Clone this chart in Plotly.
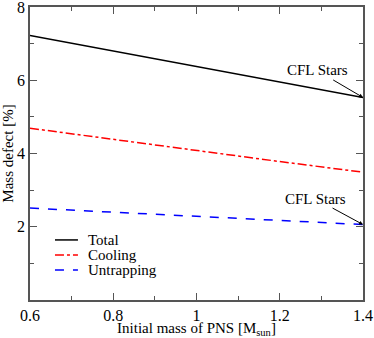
import plotly.graph_objects as go

mass = [0.6, 0.8, 1.0, 1.2, 1.4]
total = [7.22, 6.80, 6.37, 5.95, 5.53]
cooling = [4.69, 4.38, 4.08, 3.78, 3.49]
untrapping = [2.51, 2.40, 2.28, 2.17, 2.06]
xticks = [0.6, 0.8, 1.0, 1.2, 1.4]
xticklabels = ["0.6", "0.8", "1", "1.2", "1.4"]
yticks = [2, 4, 6, 8]
series_names = ["Total", "Cooling", "Untrapping"]
series_colors = ["black", "red", "blue"]
series_dash = ["solid", "dashdot", "dash"]

FONT = "Liberation Serif"

fig = go.Figure()
for name, ys, col, dash in zip(series_names, [total, cooling, untrapping], series_colors, series_dash):
    fig.add_trace(go.Scatter(x=mass, y=ys, mode="lines", name=name,
                             line=dict(color=col, width=1.5, dash=dash)))

axis_common = dict(showgrid=False, zeroline=False, showline=True, linecolor="#555",
                   linewidth=1.5, mirror="ticks", ticks="inside", ticklen=7,
                   tickcolor="#555", tickwidth=1, automargin=False,
                   ticklabeloverflow="allow",
                   tickfont=dict(family=FONT, size=16, color="black"))

fig.update_xaxes(range=[0.6, 1.4], tickvals=xticks, ticktext=xticklabels,
                 minor=dict(dtick=0.1, ticks="inside", ticklen=4, tickcolor="#555"),
                 title=dict(text="Initial mass of PNS [M<sub>sun</sub>]",
                            font=dict(family=FONT, size=15, color="black"), standoff=2),
                 **axis_common)
fig.update_yaxes(range=[0, 8], tickvals=yticks,
                 minor=dict(dtick=1, ticks="inside", ticklen=4, tickcolor="#555"),
                 title=dict(text="Mass defect [%]",
                            font=dict(family=FONT, size=15, color="black"), standoff=2),
                 **axis_common)

fig.add_annotation(x=mass[-1], y=total[-1], ax=-46, ay=-27,
                   text="CFL Stars", showarrow=True, arrowhead=2, arrowsize=0.8, arrowwidth=1,
                   arrowcolor="black", xref="x", yref="y",
                   font=dict(family=FONT, size=15, color="black"))
fig.add_annotation(x=mass[-1], y=untrapping[-1], ax=-48, ay=-26,
                   text="CFL Stars", showarrow=True, arrowhead=2, arrowsize=0.8, arrowwidth=1,
                   arrowcolor="black", xref="x", yref="y",
                   font=dict(family=FONT, size=15, color="black"))

# manual compact legend
leg_y = [0.205, 0.154, 0.102]
for name, col, dash, yy in zip(series_names, series_colors, series_dash, leg_y):
    fig.add_shape(type="line", xref="paper", yref="paper", x0=0.075, x1=0.144, y0=yy, y1=yy,
                  line=dict(color=col, width=1.5, dash=dash))
    fig.add_annotation(xref="paper", yref="paper", x=0.168, y=yy, xanchor="left", yanchor="middle",
                       text=name, showarrow=False, font=dict(family=FONT, size=15, color="black"))

fig.update_layout(
    width=374, height=338,
    margin=dict(l=30, r=11, t=7, b=38),
    plot_bgcolor="white", paper_bgcolor="white",
    font=dict(family=FONT, size=15, color="black"),
    showlegend=False,
)
fig.write_html("out.html", config={"displayModeBar": False},
               post_script="document.body.style.margin='0';")
